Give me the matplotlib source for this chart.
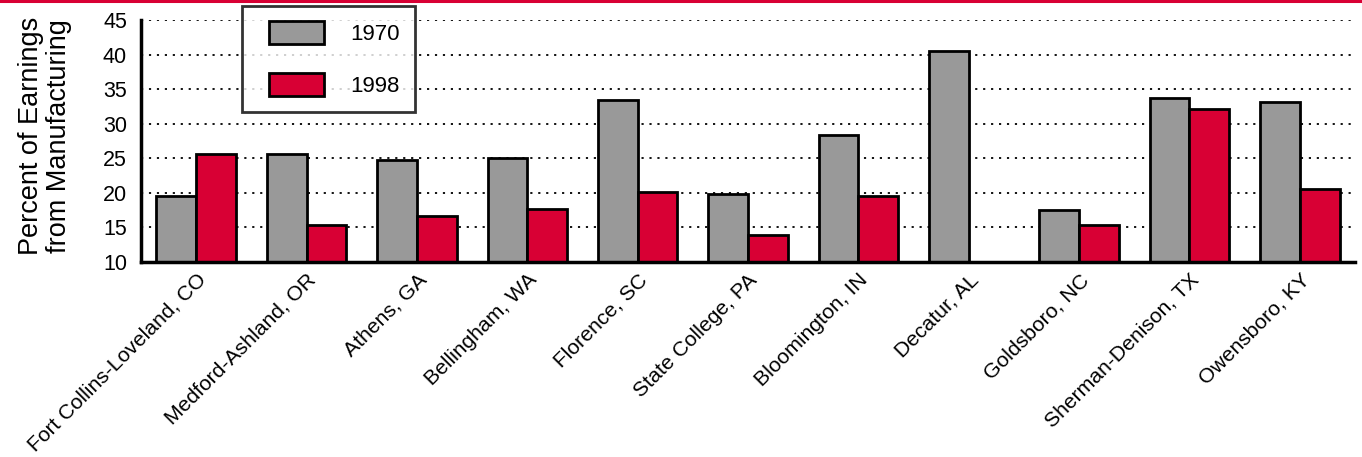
import matplotlib
matplotlib.use("Agg")
import matplotlib.pyplot as plt
import matplotlib.patches as mpatches
from matplotlib.legend_handler import HandlerPatch
from matplotlib.container import BarContainer
from matplotlib.lines import Line2D
import numpy as np

plt.rcParams['font.family'] = ['Liberation Sans', 'DejaVu Sans']

cities = ["Fort Collins-Loveland, CO", "Medford-Ashland, OR", "Athens, GA",
          "Bellingham, WA", "Florence, SC", "State College, PA", "Bloomington, IN",
          "Decatur, AL", "Goldsboro, NC", "Sherman-Denison, TX", "Owensboro, KY"]
val_1970 = [19.5, 25.6, 24.7, 25.0, 33.4, 19.9, 28.3, 40.5, 17.5, 33.7, 33.1]
val_1998 = [25.6, 15.3, 16.7, 17.6, 20.1, 13.9, 19.6, np.nan, 15.3, 32.1, 20.5]
yticks = [10, 15, 20, 25, 30, 35, 40, 45]
series_labels = ["1970", "1998"]

GREY = "#999999"
RED = "#D80034"

W, H = 1362, 457
fig = plt.figure(figsize=(W / 100, H / 100), dpi=100)
ax = fig.add_axes([141 / W, 1 - 262 / H, (1355 - 141) / W, (262 - 20) / H])

x = np.arange(len(cities))
bw = 0.36
ax.bar(x - bw / 2, val_1970, width=bw, color=GREY, edgecolor="black",
       linewidth=2, label=series_labels[0], zorder=3)
ax.bar(x + bw / 2, val_1998, width=bw, color=RED, edgecolor="black",
       linewidth=2, label=series_labels[1], zorder=3)

ax.set_xlim(-0.5, len(cities) - 0.5)
ax.set_ylim(10, 45)
ax.set_yticks(yticks)
ax.set_yticklabels([str(v) for v in yticks], fontsize=15.5)
ax.yaxis.grid(True, linestyle=(0, (1.2, 3.2)), color="black", linewidth=1.3, zorder=0)
ax.set_axisbelow(True)

ax.set_xticks(x)
ax.set_xticklabels(cities, rotation=45, ha="right", va="top",
                   rotation_mode="anchor", fontsize=15.2)
ax.tick_params(axis="both", length=0)
ax.tick_params(axis="y", pad=10)
ax.tick_params(axis="x", pad=6)

for s in ["top", "right"]:
    ax.spines[s].set_visible(False)
for s in ["left", "bottom"]:
    ax.spines[s].set_linewidth(2.5)
ax.spines["bottom"].set_zorder(4)

ax.set_ylabel("Percent of Earnings\nfrom Manufacturing", fontsize=19.5, linespacing=1.1)
ax.yaxis.set_label_coords(-0.057, 0.52)

LEG_FS = 16
PATCH_W = 55 * 0.72  # points


def shifted_rect(legend, orig_handle, xdescent, ydescent, width, height, fontsize):
    return mpatches.Rectangle((-xdescent + width - PATCH_W, -ydescent), PATCH_W, height)


def first_child(legend_handle, orig_handle):
    legend_handle.update_from(orig_handle[0])


leg = ax.legend(loc="upper left", bbox_to_anchor=(242 / W, 1 - 6 / H),
                bbox_transform=fig.transFigure, borderaxespad=0, fontsize=LEG_FS,
                frameon=True, fancybox=False, handlelength=3.0, handleheight=1.22,
                handletextpad=1.2, labelspacing=1.25, borderpad=0.68,
                handler_map={BarContainer: HandlerPatch(patch_func=shifted_rect,
                                                        update_func=first_child)})
leg.get_frame().set_edgecolor("black")
leg.get_frame().set_linewidth(2)
leg.set_zorder(5)

fig.add_artist(Line2D([0, 1], [1 - 1.2 / H, 1 - 1.2 / H], transform=fig.transFigure,
                      color=RED, linewidth=2.2))

fig.savefig("out.png", dpi=100)
